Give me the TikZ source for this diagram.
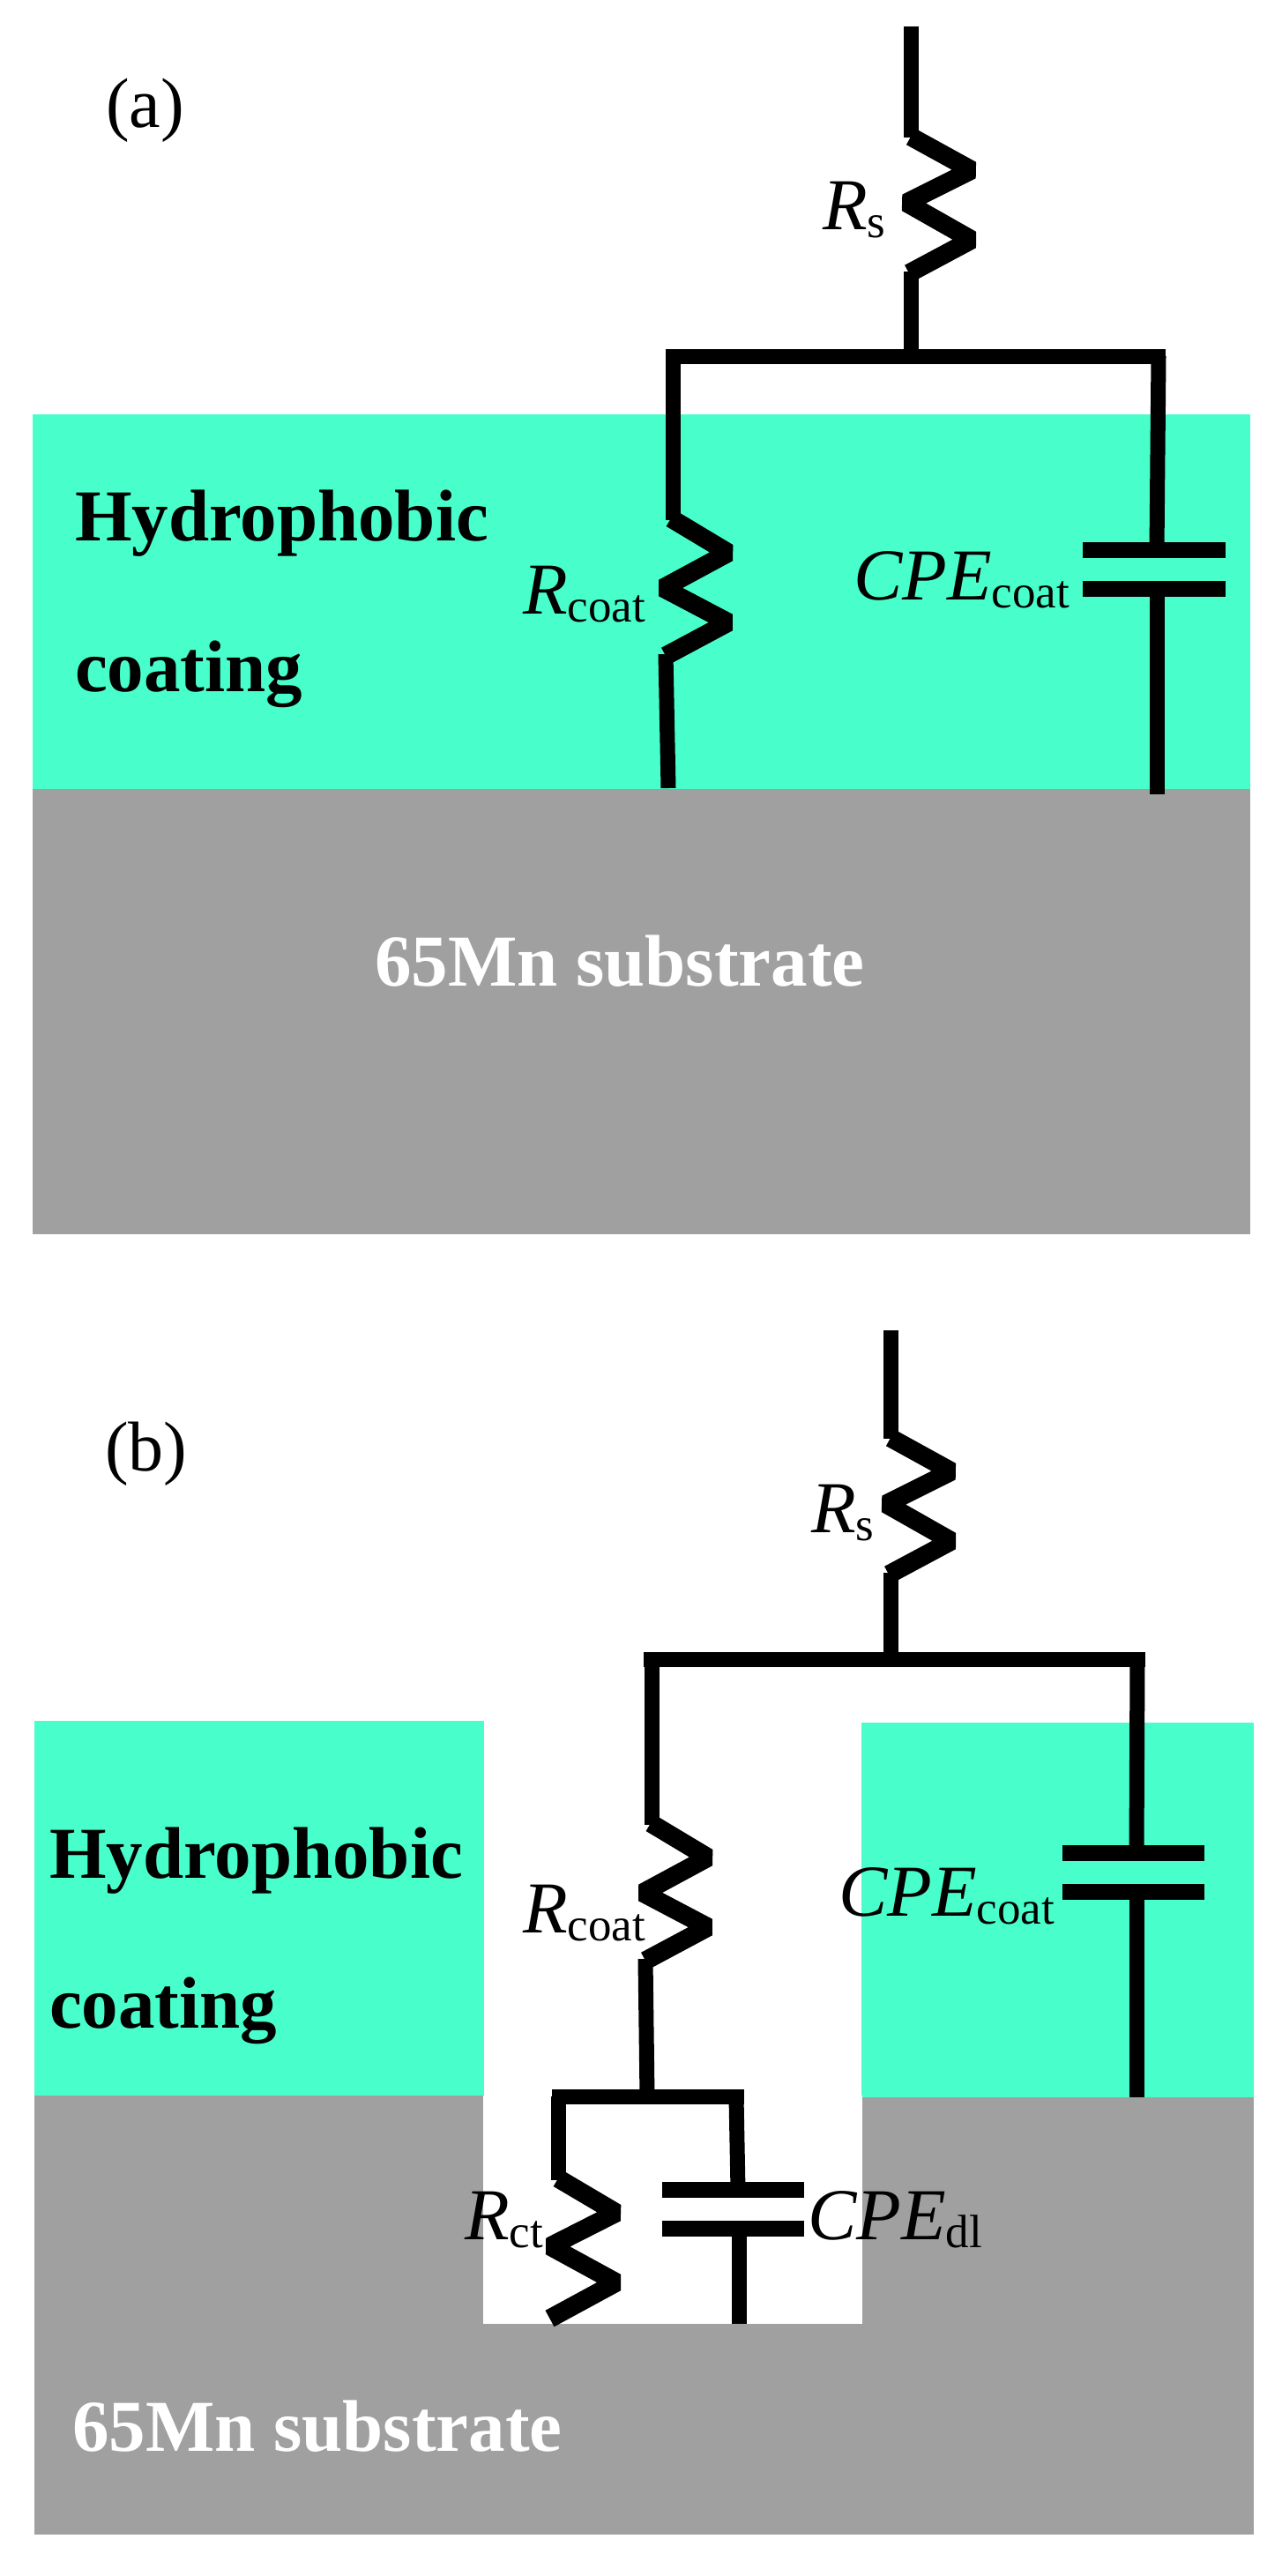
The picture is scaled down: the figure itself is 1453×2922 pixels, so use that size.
\documentclass[tikz,border=0pt]{standalone}
\usepackage{fontspec}
\setmainfont{Liberation Serif}
\definecolor{coatteal}{HTML}{48FFCC}
\definecolor{subgray}{HTML}{A0A0A0}
\newcommand{\lblsub}[2]{{\fontsize{41.5}{41.5}\selectfont\itshape #1}\raisebox{-4.5pt}{\fontsize{26.5}{26.5}\selectfont #2}}
\tikzset{
  wire/.style={line width=8.5pt,line join=miter,miter limit=10,line cap=butt,black},
  zig/.style={line width=10.5pt,line join=bevel,line cap=butt,black},
  plate/.style={line width=9pt,line cap=butt,black},
  txt/.style={anchor=base west,inner sep=0pt,outer sep=0pt},
  panel/.style={txt,font=\fontsize{40}{40}\selectfont},
  matname/.style={txt,font=\fontsize{41.5}{41.5}\selectfont\bfseries},
  elem/.style={txt}
}
\begin{document}
\begin{tikzpicture}[x=0.5pt,y=-0.5pt]
\useasboundingbox (0,0) rectangle (1453,2922);
\fill[white] (0,0) rectangle (1453,2922);
% panel (a) layers
\fill[coatteal] (37,470) rectangle (1418,895);
\fill[subgray] (37,895) rectangle (1418,1400);
% panel (b) layers
\fill[subgray] (39,2377) rectangle (1422,2875);
\fill[coatteal] (39,1952) rectangle (549,2377);
\fill[coatteal] (977,1954) rectangle (1422,2379);
\fill[white] (548,2377) rectangle (977.5,2636);

% panel (a) circuit
\coordinate (aTop) at (1033,30);
\coordinate (aJ) at (1033,404);
\coordinate (aL) at (763,404);
\coordinate (aR) at (1314,404);
\coordinate (aLb) at (758,894);
\coordinate (aP1) at (1312,624);
\coordinate (aP2) at (1312,668);
\coordinate (aRb) at (1312,901);
\coordinate (aRs1) at (1033,155);
\coordinate (aRs2) at (1031,310);
\coordinate (aRc1) at (761,588);
\coordinate (aRc2) at (755,744);
\draw[wire] (aTop) -- (1033,156);
\draw[zig] (aRs1) -- (1102,193) -- (1028,230) -- (1102,272) -- (aRs2);
\draw[wire] (1033,308) -- (aJ);
\draw[wire] (755,404) -- (1322,404);
\draw[wire] (aL) -- (763,590);
\draw[zig] (aRc1) -- (826,627) -- (752,667) -- (826,706) -- (aRc2);
\draw[wire] (755,742) -- (aLb);
\draw[wire] (aR) -- (aP1);
\draw[wire] (aP2) -- (aRb);
\draw[plate] (1228,624) -- (1390,624);
\draw[plate] (1228,668) -- (1390,668);

% panel (b) circuit
\coordinate (bTop) at (1010,1509);
\coordinate (bJ) at (1010,1882);
\coordinate (bL) at (739,1882);
\coordinate (bR) at (1290,1882);
\coordinate (bJ2) at (734,2378);
\coordinate (bP1) at (1289,2102);
\coordinate (bP2) at (1289,2146);
\coordinate (bRb) at (1289,2379);
\coordinate (cL) at (633,2378);
\coordinate (cR) at (835,2378);
\coordinate (cP1) at (837,2484);
\coordinate (cP2) at (838,2528);
\coordinate (cRb) at (838,2636);
\coordinate (bRs1) at (1010,1631);
\coordinate (bRs2) at (1008,1786);
\coordinate (bRc1) at (738,2068);
\coordinate (bRc2) at (732,2224);
\coordinate (cRt1) at (633,2471);
\coordinate (cRt2) at (623.5,2630);
\draw[wire] (bTop) -- (1010,1632);
\draw[zig] (bRs1) -- (1079,1669) -- (1005,1706) -- (1079,1748) -- (bRs2);
\draw[wire] (1010,1784) -- (bJ);
\draw[wire] (730,1882) -- (1299,1882);
\draw[wire] (bL) -- (739,2070);
\draw[zig] (bRc1) -- (803,2107) -- (729,2147) -- (803,2186) -- (bRc2);
\draw[wire] (732,2222) -- (bJ2);
\draw[wire] (bR) -- (bP1);
\draw[wire] (bP2) -- (bRb);
\draw[plate] (1205,2102) -- (1366,2102);
\draw[plate] (1205,2146) -- (1366,2146);
\draw[wire] (625.5,2378.5) -- (844,2378.5);
\draw[wire] (cL) -- (633,2473);
\draw[zig] (cRt1) -- (699,2510) -- (624,2548) -- (699,2589) -- (cRt2);
\draw[wire] (cR) -- (cP1);
\draw[wire] (cP2) -- (cRb);
\draw[plate] (751,2484) -- (912,2484);
\draw[plate] (751,2528) -- (912,2528);

% labels panel (a)
\node[panel] (la) at (120,145) {(a)};
\node[matname] (ha) at (85,613) {Hydrophobic};
\node[matname] (ca) at (85,784) {coating};
\node[matname,text=white] (ma) at (425,1118) {65Mn substrate};
\node[elem] (rsa) at (933,261) {\lblsub{R}{s}};
\node[elem] (rca) at (593,696) {\lblsub{R}{coat}};
\node[elem] (cca) at (968,680) {\lblsub{CPE}{coat}};
% labels panel (b)
\node[panel] (lb) at (119,1668) {(b)};
\node[matname] (hb) at (56,2130) {Hydrophobic};
\node[matname] (cb) at (56,2300) {coating};
\node[matname,text=white] (mb) at (82,2780) {65Mn substrate};
\node[elem] (rsb) at (920,1738) {\lblsub{R}{s}};
\node[elem] (rcb) at (593,2192) {\lblsub{R}{coat}};
\node[elem] (ccb) at (951,2173) {\lblsub{CPE}{coat}};
\node[elem] (rct) at (527,2540) {\lblsub{R}{ct}};
\node[elem] (cdl) at (916,2540) {\lblsub{CPE}{dl}};
\end{tikzpicture}
\end{document}
